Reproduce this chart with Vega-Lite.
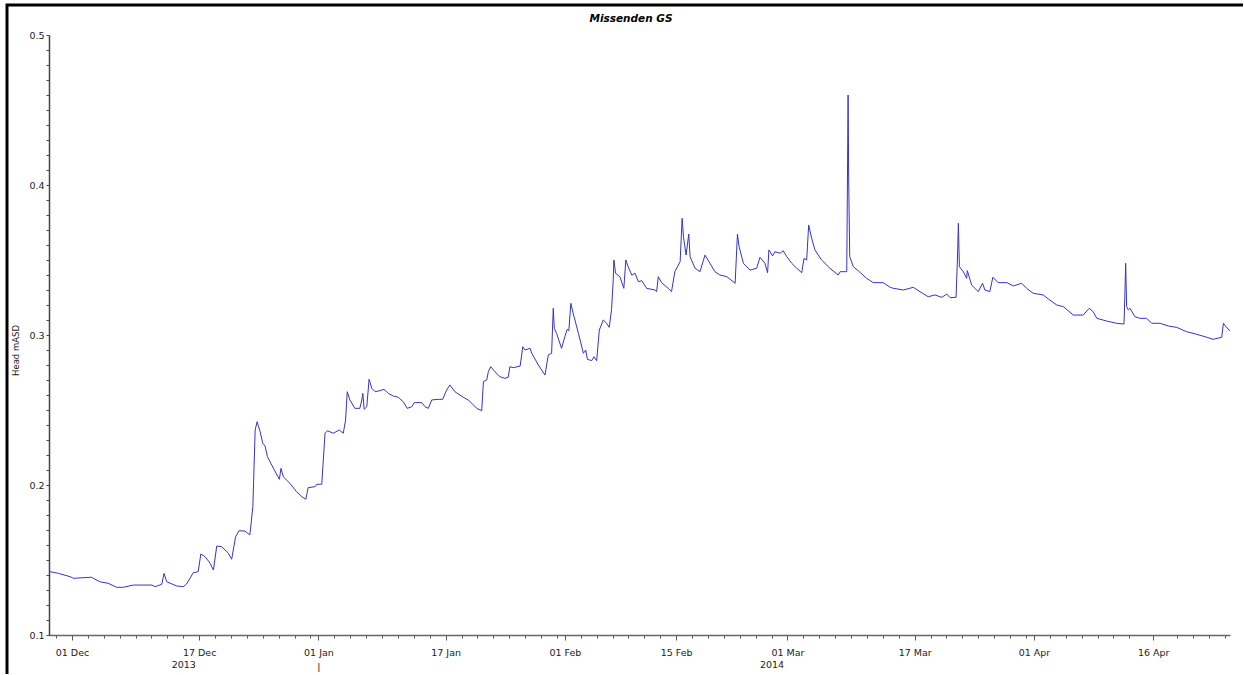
{
  "$schema": "https://vega.github.io/schema/vega-lite/v6.json",
  "width": 1236,
  "height": 669,
  "autosize": "none",
  "padding": {"left": 7, "top": 5, "right": 1, "bottom": 1},
  "background": "white",
  "config": {
    "view": {"stroke": "black", "strokeWidth": 3, "strokeDash": [1236, 1905, 669]},
    "font": "DejaVu Sans"
  },
  "title": {"text": "Missenden GS", "font": "DejaVu Sans", "fontSize": 10.5, "fontStyle": "italic", "fontWeight": "bold", "anchor": "middle", "frame": "group", "offset": -27, "baseline": "alphabetic", "dx": 6, "color": "black"},
  "data": {"values": [
    {"t": "2013-11-28T06:00Z", "v": 0.1422},
    {"t": "2013-11-29T07:00Z", "v": 0.1411},
    {"t": "2013-11-30T18:00Z", "v": 0.1389},
    {"t": "2013-12-01T04:00Z", "v": 0.1378},
    {"t": "2013-12-03T11:00Z", "v": 0.1385},
    {"t": "2013-12-04T12:00Z", "v": 0.1355},
    {"t": "2013-12-05T13:00Z", "v": 0.1345},
    {"t": "2013-12-06T15:00Z", "v": 0.1318},
    {"t": "2013-12-07T11:00Z", "v": 0.1318},
    {"t": "2013-12-08T17:00Z", "v": 0.1333},
    {"t": "2013-12-11T01:00Z", "v": 0.1333},
    {"t": "2013-12-11T11:00Z", "v": 0.1322},
    {"t": "2013-12-12T07:00Z", "v": 0.1338},
    {"t": "2013-12-12T14:00Z", "v": 0.1411},
    {"t": "2013-12-12T22:00Z", "v": 0.1355},
    {"t": "2013-12-14T04:00Z", "v": 0.1327},
    {"t": "2013-12-15T00:00Z", "v": 0.1322},
    {"t": "2013-12-15T10:00Z", "v": 0.134},
    {"t": "2013-12-16T06:00Z", "v": 0.1415},
    {"t": "2013-12-16T21:00Z", "v": 0.1422},
    {"t": "2013-12-17T05:00Z", "v": 0.154},
    {"t": "2013-12-17T18:00Z", "v": 0.1522},
    {"t": "2013-12-18T09:00Z", "v": 0.1478},
    {"t": "2013-12-18T19:00Z", "v": 0.1433},
    {"t": "2013-12-19T05:00Z", "v": 0.1593},
    {"t": "2013-12-19T20:00Z", "v": 0.1589},
    {"t": "2013-12-20T16:00Z", "v": 0.1545},
    {"t": "2013-12-21T02:00Z", "v": 0.1505},
    {"t": "2013-12-21T14:00Z", "v": 0.1655},
    {"t": "2013-12-22T00:00Z", "v": 0.1695},
    {"t": "2013-12-22T18:00Z", "v": 0.1693},
    {"t": "2013-12-23T09:00Z", "v": 0.1667},
    {"t": "2013-12-23T18:00Z", "v": 0.1855},
    {"t": "2013-12-24T01:00Z", "v": 0.2367},
    {"t": "2013-12-24T07:00Z", "v": 0.2422},
    {"t": "2013-12-24T16:00Z", "v": 0.2355},
    {"t": "2013-12-25T00:00Z", "v": 0.2278},
    {"t": "2013-12-25T07:00Z", "v": 0.226},
    {"t": "2013-12-25T14:00Z", "v": 0.2189},
    {"t": "2013-12-26T03:00Z", "v": 0.2133},
    {"t": "2013-12-27T02:00Z", "v": 0.2038},
    {"t": "2013-12-27T07:00Z", "v": 0.2111},
    {"t": "2013-12-27T14:00Z", "v": 0.2055},
    {"t": "2013-12-28T10:00Z", "v": 0.2011},
    {"t": "2013-12-29T06:00Z", "v": 0.1955},
    {"t": "2013-12-29T22:00Z", "v": 0.1922},
    {"t": "2013-12-30T10:00Z", "v": 0.1905},
    {"t": "2013-12-30T17:00Z", "v": 0.1982},
    {"t": "2013-12-31T14:00Z", "v": 0.1989},
    {"t": "2013-12-31T19:00Z", "v": 0.2005},
    {"t": "2014-01-01T10:00Z", "v": 0.2005},
    {"t": "2014-01-01T20:00Z", "v": 0.2345},
    {"t": "2014-01-02T03:00Z", "v": 0.2362},
    {"t": "2014-01-02T21:00Z", "v": 0.2345},
    {"t": "2014-01-03T15:00Z", "v": 0.2367},
    {"t": "2014-01-04T03:00Z", "v": 0.2345},
    {"t": "2014-01-04T10:00Z", "v": 0.2433},
    {"t": "2014-01-04T15:00Z", "v": 0.2622},
    {"t": "2014-01-04T23:00Z", "v": 0.2567},
    {"t": "2014-01-05T14:00Z", "v": 0.2511},
    {"t": "2014-01-06T05:00Z", "v": 0.2511},
    {"t": "2014-01-06T11:00Z", "v": 0.2567},
    {"t": "2014-01-06T14:00Z", "v": 0.2611},
    {"t": "2014-01-06T18:00Z", "v": 0.2505},
    {"t": "2014-01-07T02:00Z", "v": 0.2522},
    {"t": "2014-01-07T09:00Z", "v": 0.2705},
    {"t": "2014-01-07T17:00Z", "v": 0.2645},
    {"t": "2014-01-08T03:00Z", "v": 0.2622},
    {"t": "2014-01-08T18:00Z", "v": 0.2629},
    {"t": "2014-01-09T06:00Z", "v": 0.2638},
    {"t": "2014-01-09T19:00Z", "v": 0.2611},
    {"t": "2014-01-10T10:00Z", "v": 0.2593},
    {"t": "2014-01-11T01:00Z", "v": 0.2585},
    {"t": "2014-01-11T16:00Z", "v": 0.2555},
    {"t": "2014-01-12T04:00Z", "v": 0.2511},
    {"t": "2014-01-12T18:00Z", "v": 0.2522},
    {"t": "2014-01-13T01:00Z", "v": 0.2549},
    {"t": "2014-01-14T00:00Z", "v": 0.2549},
    {"t": "2014-01-14T10:00Z", "v": 0.2522},
    {"t": "2014-01-14T20:00Z", "v": 0.2511},
    {"t": "2014-01-15T06:00Z", "v": 0.2567},
    {"t": "2014-01-16T02:00Z", "v": 0.2571},
    {"t": "2014-01-16T15:00Z", "v": 0.2571},
    {"t": "2014-01-17T03:00Z", "v": 0.2633},
    {"t": "2014-01-17T13:00Z", "v": 0.2667},
    {"t": "2014-01-18T04:00Z", "v": 0.2622},
    {"t": "2014-01-19T05:00Z", "v": 0.2585},
    {"t": "2014-01-19T20:00Z", "v": 0.2567},
    {"t": "2014-01-20T07:00Z", "v": 0.2545},
    {"t": "2014-01-20T22:00Z", "v": 0.2511},
    {"t": "2014-01-21T13:00Z", "v": 0.2495},
    {"t": "2014-01-21T18:00Z", "v": 0.2689},
    {"t": "2014-01-22T04:00Z", "v": 0.27},
    {"t": "2014-01-22T09:00Z", "v": 0.2755},
    {"t": "2014-01-22T16:00Z", "v": 0.2789},
    {"t": "2014-01-23T05:00Z", "v": 0.2755},
    {"t": "2014-01-23T20:00Z", "v": 0.2722},
    {"t": "2014-01-24T11:00Z", "v": 0.2711},
    {"t": "2014-01-24T21:00Z", "v": 0.2718},
    {"t": "2014-01-25T02:00Z", "v": 0.2789},
    {"t": "2014-01-25T12:00Z", "v": 0.2782},
    {"t": "2014-01-26T09:00Z", "v": 0.2793},
    {"t": "2014-01-26T17:00Z", "v": 0.2922},
    {"t": "2014-01-27T00:00Z", "v": 0.29},
    {"t": "2014-01-27T15:00Z", "v": 0.2911},
    {"t": "2014-01-27T20:00Z", "v": 0.2878},
    {"t": "2014-01-28T16:00Z", "v": 0.28},
    {"t": "2014-01-29T12:00Z", "v": 0.2733},
    {"t": "2014-01-29T22:00Z", "v": 0.2867},
    {"t": "2014-01-30T08:00Z", "v": 0.2878},
    {"t": "2014-01-30T13:00Z", "v": 0.3178},
    {"t": "2014-01-30T16:00Z", "v": 0.3045},
    {"t": "2014-01-30T23:00Z", "v": 0.3011},
    {"t": "2014-01-31T14:00Z", "v": 0.2911},
    {"t": "2014-02-01T00:00Z", "v": 0.2989},
    {"t": "2014-02-01T07:00Z", "v": 0.3038},
    {"t": "2014-02-01T12:00Z", "v": 0.3029},
    {"t": "2014-02-01T18:00Z", "v": 0.3211},
    {"t": "2014-02-02T01:00Z", "v": 0.3145},
    {"t": "2014-02-02T17:00Z", "v": 0.3011},
    {"t": "2014-02-03T08:00Z", "v": 0.2878},
    {"t": "2014-02-03T15:00Z", "v": 0.29},
    {"t": "2014-02-03T20:00Z", "v": 0.2838},
    {"t": "2014-02-04T09:00Z", "v": 0.2829},
    {"t": "2014-02-04T16:00Z", "v": 0.2855},
    {"t": "2014-02-05T00:00Z", "v": 0.2829},
    {"t": "2014-02-05T08:00Z", "v": 0.3033},
    {"t": "2014-02-05T20:00Z", "v": 0.31},
    {"t": "2014-02-06T06:00Z", "v": 0.3078},
    {"t": "2014-02-06T14:00Z", "v": 0.3051},
    {"t": "2014-02-06T21:00Z", "v": 0.3171},
    {"t": "2014-02-07T02:00Z", "v": 0.3367},
    {"t": "2014-02-07T04:00Z", "v": 0.35},
    {"t": "2014-02-07T09:00Z", "v": 0.3411},
    {"t": "2014-02-07T22:00Z", "v": 0.3389},
    {"t": "2014-02-08T10:00Z", "v": 0.3311},
    {"t": "2014-02-08T16:00Z", "v": 0.35},
    {"t": "2014-02-08T23:00Z", "v": 0.3455},
    {"t": "2014-02-09T10:00Z", "v": 0.34},
    {"t": "2014-02-09T20:00Z", "v": 0.3411},
    {"t": "2014-02-10T06:00Z", "v": 0.3355},
    {"t": "2014-02-10T16:00Z", "v": 0.3362},
    {"t": "2014-02-11T07:00Z", "v": 0.3311},
    {"t": "2014-02-12T08:00Z", "v": 0.33},
    {"t": "2014-02-12T13:00Z", "v": 0.3289},
    {"t": "2014-02-12T18:00Z", "v": 0.3389},
    {"t": "2014-02-13T04:00Z", "v": 0.3349},
    {"t": "2014-02-14T00:00Z", "v": 0.3311},
    {"t": "2014-02-14T10:00Z", "v": 0.3289},
    {"t": "2014-02-14T20:00Z", "v": 0.3422},
    {"t": "2014-02-15T12:00Z", "v": 0.3489},
    {"t": "2014-02-15T18:00Z", "v": 0.3778},
    {"t": "2014-02-15T22:00Z", "v": 0.3655},
    {"t": "2014-02-16T06:00Z", "v": 0.3533},
    {"t": "2014-02-16T14:00Z", "v": 0.3673},
    {"t": "2014-02-16T18:00Z", "v": 0.3522},
    {"t": "2014-02-17T09:00Z", "v": 0.3445},
    {"t": "2014-02-18T00:00Z", "v": 0.3422},
    {"t": "2014-02-18T15:00Z", "v": 0.3533},
    {"t": "2014-02-19T06:00Z", "v": 0.3478},
    {"t": "2014-02-19T21:00Z", "v": 0.3422},
    {"t": "2014-02-20T12:00Z", "v": 0.34},
    {"t": "2014-02-21T09:00Z", "v": 0.3389},
    {"t": "2014-02-22T10:00Z", "v": 0.3345},
    {"t": "2014-02-22T17:00Z", "v": 0.3673},
    {"t": "2014-02-22T22:00Z", "v": 0.3589},
    {"t": "2014-02-23T11:00Z", "v": 0.3478},
    {"t": "2014-02-24T07:00Z", "v": 0.3433},
    {"t": "2014-02-25T03:00Z", "v": 0.3445},
    {"t": "2014-02-25T13:00Z", "v": 0.3518},
    {"t": "2014-02-26T04:00Z", "v": 0.3478},
    {"t": "2014-02-26T12:00Z", "v": 0.3415},
    {"t": "2014-02-26T16:00Z", "v": 0.3567},
    {"t": "2014-02-27T03:00Z", "v": 0.3527},
    {"t": "2014-02-27T10:00Z", "v": 0.3555},
    {"t": "2014-02-28T02:00Z", "v": 0.3545},
    {"t": "2014-02-28T11:00Z", "v": 0.3562},
    {"t": "2014-02-28T22:00Z", "v": 0.3522},
    {"t": "2014-03-01T13:00Z", "v": 0.3478},
    {"t": "2014-03-02T04:00Z", "v": 0.3445},
    {"t": "2014-03-02T19:00Z", "v": 0.3415},
    {"t": "2014-03-03T02:00Z", "v": 0.3511},
    {"t": "2014-03-03T10:00Z", "v": 0.35},
    {"t": "2014-03-03T16:00Z", "v": 0.3733},
    {"t": "2014-03-04T01:00Z", "v": 0.3645},
    {"t": "2014-03-04T11:00Z", "v": 0.3567},
    {"t": "2014-03-05T07:00Z", "v": 0.35},
    {"t": "2014-03-06T08:00Z", "v": 0.3445},
    {"t": "2014-03-07T09:00Z", "v": 0.34},
    {"t": "2014-03-07T15:00Z", "v": 0.3422},
    {"t": "2014-03-08T11:00Z", "v": 0.3422},
    {"t": "2014-03-08T13:00Z", "v": 0.40},
    {"t": "2014-03-08T15:00Z", "v": 0.46},
    {"t": "2014-03-08T17:00Z", "v": 0.40},
    {"t": "2014-03-08T20:00Z", "v": 0.3522},
    {"t": "2014-03-09T07:00Z", "v": 0.3455},
    {"t": "2014-03-10T01:00Z", "v": 0.3422},
    {"t": "2014-03-10T23:00Z", "v": 0.3378},
    {"t": "2014-03-11T19:00Z", "v": 0.3349},
    {"t": "2014-03-13T01:00Z", "v": 0.3349},
    {"t": "2014-03-13T22:00Z", "v": 0.3318},
    {"t": "2014-03-14T08:00Z", "v": 0.3311},
    {"t": "2014-03-15T14:00Z", "v": 0.33},
    {"t": "2014-03-16T20:00Z", "v": 0.3318},
    {"t": "2014-03-17T16:00Z", "v": 0.3289},
    {"t": "2014-03-18T17:00Z", "v": 0.3255},
    {"t": "2014-03-19T13:00Z", "v": 0.3267},
    {"t": "2014-03-20T10:00Z", "v": 0.3251},
    {"t": "2014-03-21T01:00Z", "v": 0.3273},
    {"t": "2014-03-21T11:00Z", "v": 0.3249},
    {"t": "2014-03-22T05:00Z", "v": 0.3251},
    {"t": "2014-03-22T09:00Z", "v": 0.35},
    {"t": "2014-03-22T12:00Z", "v": 0.3745},
    {"t": "2014-03-22T15:00Z", "v": 0.3455},
    {"t": "2014-03-23T03:00Z", "v": 0.3422},
    {"t": "2014-03-23T13:00Z", "v": 0.3378},
    {"t": "2014-03-23T15:00Z", "v": 0.3429},
    {"t": "2014-03-24T04:00Z", "v": 0.3333},
    {"t": "2014-03-25T00:00Z", "v": 0.3289},
    {"t": "2014-03-25T13:00Z", "v": 0.3345},
    {"t": "2014-03-25T20:00Z", "v": 0.33},
    {"t": "2014-03-26T11:00Z", "v": 0.3289},
    {"t": "2014-03-26T20:00Z", "v": 0.3385},
    {"t": "2014-03-27T12:00Z", "v": 0.3349},
    {"t": "2014-03-28T14:00Z", "v": 0.3349},
    {"t": "2014-03-29T10:00Z", "v": 0.3327},
    {"t": "2014-03-30T11:00Z", "v": 0.3345},
    {"t": "2014-03-31T02:00Z", "v": 0.3311},
    {"t": "2014-03-31T22:00Z", "v": 0.3278},
    {"t": "2014-04-02T04:00Z", "v": 0.3267},
    {"t": "2014-04-03T00:00Z", "v": 0.3233},
    {"t": "2014-04-03T21:00Z", "v": 0.32},
    {"t": "2014-04-04T17:00Z", "v": 0.3189},
    {"t": "2014-04-05T23:00Z", "v": 0.3133},
    {"t": "2014-04-07T05:00Z", "v": 0.3133},
    {"t": "2014-04-07T23:00Z", "v": 0.3178},
    {"t": "2014-04-08T11:00Z", "v": 0.3155},
    {"t": "2014-04-08T22:00Z", "v": 0.3111},
    {"t": "2014-04-10T04:00Z", "v": 0.3093},
    {"t": "2014-04-11T10:00Z", "v": 0.3078},
    {"t": "2014-04-12T08:00Z", "v": 0.3073},
    {"t": "2014-04-12T11:00Z", "v": 0.33},
    {"t": "2014-04-12T13:00Z", "v": 0.3478},
    {"t": "2014-04-12T16:00Z", "v": 0.3189},
    {"t": "2014-04-12T21:00Z", "v": 0.3167},
    {"t": "2014-04-13T02:00Z", "v": 0.3178},
    {"t": "2014-04-13T17:00Z", "v": 0.3122},
    {"t": "2014-04-14T08:00Z", "v": 0.3111},
    {"t": "2014-04-15T04:00Z", "v": 0.3111},
    {"t": "2014-04-15T20:00Z", "v": 0.3078},
    {"t": "2014-04-16T21:00Z", "v": 0.3078},
    {"t": "2014-04-17T22:00Z", "v": 0.306},
    {"t": "2014-04-18T23:00Z", "v": 0.3051},
    {"t": "2014-04-20T05:00Z", "v": 0.3022},
    {"t": "2014-04-21T11:00Z", "v": 0.3005},
    {"t": "2014-04-22T18:00Z", "v": 0.2985},
    {"t": "2014-04-23T13:00Z", "v": 0.2971},
    {"t": "2014-04-24T15:00Z", "v": 0.2985},
    {"t": "2014-04-24T20:00Z", "v": 0.3078},
    {"t": "2014-04-25T04:00Z", "v": 0.3055},
    {"t": "2014-04-25T16:00Z", "v": 0.3027}
  ]},
  "mark": {"type": "line", "color": "#3434c8", "strokeWidth": 1, "interpolate": "linear"},
  "encoding": {
    "x": {
      "field": "t", "type": "temporal",
      "scale": {"type": "utc", "domain": [1385606160000, 1398441600000], "range": [42, 1223], "nice": false},
      "axis": {
        "title": null,
        "orient": "bottom",
        "offset": -39,
        "grid": false,
        "values": [1385683200000, 1385856000000, 1386028800000, 1386201600000, 1386374400000, 1386547200000, 1386720000000, 1386892800000, 1387065600000, 1387238400000, 1387411200000, 1387584000000, 1387756800000, 1387929600000, 1388102400000, 1388275200000, 1388448000000, 1388534400000, 1388707200000, 1388880000000, 1389052800000, 1389225600000, 1389398400000, 1389571200000, 1389744000000, 1389916800000, 1390089600000, 1390262400000, 1390435200000, 1390608000000, 1390780800000, 1390953600000, 1391126400000, 1391212800000, 1391385600000, 1391558400000, 1391731200000, 1391904000000, 1392076800000, 1392249600000, 1392422400000, 1392595200000, 1392768000000, 1392940800000, 1393113600000, 1393286400000, 1393459200000, 1393632000000, 1393804800000, 1393977600000, 1394150400000, 1394323200000, 1394496000000, 1394668800000, 1394841600000, 1395014400000, 1395187200000, 1395360000000, 1395532800000, 1395705600000, 1395878400000, 1396051200000, 1396224000000, 1396310400000, 1396483200000, 1396656000000, 1396828800000, 1397001600000, 1397174400000, 1397347200000, 1397606400000, 1397865600000, 1398038400000, 1398211200000, 1398384000000],
        "labelExpr": "indexof(['01 Dec','17 Dec','17 Jan','01 Feb','15 Feb','01 Mar','17 Mar','01 Apr','16 Apr'], utcFormat(datum.value,'%d %b')) >= 0 ? utcFormat(datum.value,'%d %b') : (utcFormat(datum.value,'%d %b') == '01 Jan' ? ['01 Jan','|'] : (utcFormat(datum.value,'%d %b') == '15 Dec' ? ['','2013'] : (utcFormat(datum.value,'%d %b') == '27 Feb' ? ['','2014'] : '')))",
        "tickSize": {"condition": {"test": "indexof(['01 Dec','17 Dec','01 Jan','17 Jan','01 Feb','15 Feb','01 Mar','17 Mar','01 Apr','16 Apr'], utcFormat(datum.value,'%d %b')) >= 0", "value": 5}, "value": 3},
        "labelPadding": 7,
        "labelOverlap": false,
        "labelFlush": false,
        "labelBound": false,
        "labelAlign": "center",
        "labelBaseline": "top",
        "labelLineHeight": 14,
        "labelFont": "DejaVu Sans",
        "labelFontSize": 9.5,
        "labelColor": "#222222",
        "domainColor": "#666666",
        "tickColor": "#555555",
        "domainWidth": 1.5,
        "tickWidth": 1
      }
    },
    "y": {
      "field": "v", "type": "quantitative",
      "scale": {"domain": [0.1, 0.5], "range": [630, 30], "nice": false, "zero": false},
      "axis": {
        "orient": "left",
        "offset": -42,
        "grid": false,
        "values": [0.1, 0.11, 0.12, 0.13, 0.14, 0.15, 0.16, 0.17, 0.18, 0.19, 0.2, 0.21, 0.22, 0.23, 0.24, 0.25, 0.26, 0.27, 0.28, 0.29, 0.3, 0.31, 0.32, 0.33, 0.34, 0.35, 0.36, 0.37, 0.38, 0.39, 0.4, 0.41, 0.42, 0.43, 0.44, 0.45, 0.46, 0.47, 0.48, 0.49, 0.5],
        "labelExpr": "abs(datum.value*10 - round(datum.value*10)) < 0.01 ? format(datum.value, '.1f') : ''",
        "labelOverlap": false,
        "labelFlush": false,
        "labelBound": false,
        "tickSize": 3,
        "labelPadding": 2,
        "labelFont": "DejaVu Sans",
        "labelFontSize": 9.5,
        "labelColor": "#222222",
        "domainColor": "#444444",
        "tickColor": "#444444",
        "domainWidth": 1.5,
        "title": "Head mASD",
        "titleFont": "DejaVu Sans",
        "titleFontSize": 8.5,
        "titleFontWeight": "normal",
        "titleColor": "#222222",
        "titleX": -34,
        "titleY": 345,
        "titleAngle": -90,
        "titleAlign": "center",
        "titleBaseline": "middle"
      }
    }
  }
}
